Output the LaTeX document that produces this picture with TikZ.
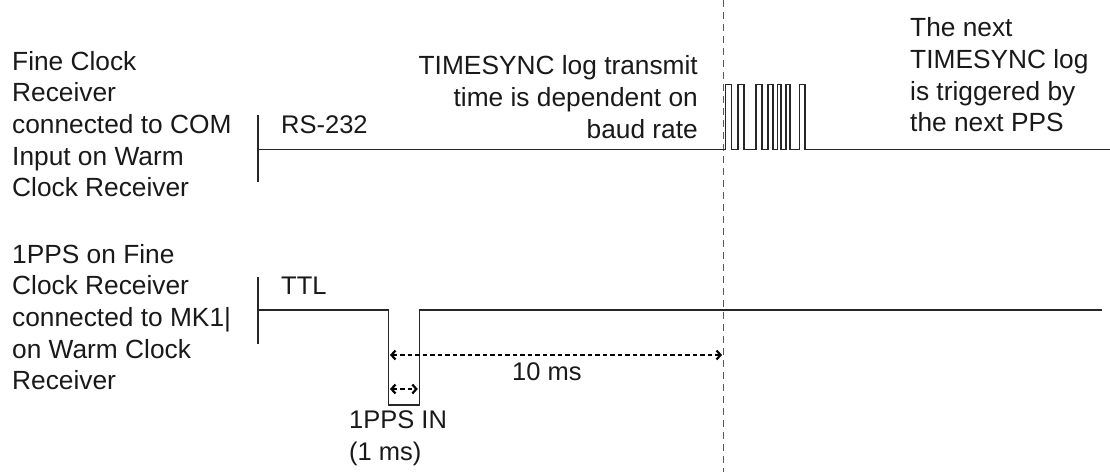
\documentclass[tikz,border=0pt]{standalone}
\usepackage{fontspec}
\setmainfont{Liberation Sans}
\usetikzlibrary{arrows.meta}
\begin{document}
\begin{tikzpicture}[x=1pt,y=-1pt,
  lbl/.style={inner sep=0pt, font=\fontsize{25.5}{31.7}\selectfont, text=black!90},
  desc/.style={inner sep=0pt, font=\fontsize{26.3}{31.7}\selectfont, text=black!90},
  sig/.style={line width=1.6pt, black!85, line join=miter},
  guide/.style={black!65, line width=1.2pt, dash pattern=on 7pt off 5pt},
  barb/.tip={Straight Barb[length=4pt,width=9pt,line width=2.2pt]},
  meas/.style={line width=1.6pt, black, dash pattern=on 4.5pt off 3pt, barb-barb}
]
\useasboundingbox (0,0) rectangle (1110,472);

% texts (base anchor = baseline of the last line)
\node[desc, anchor=base west, align=left] (t1) at (12,196.8) {Fine Clock\\Receiver\\connected to COM\\Input on Warm\\Clock Receiver};
\node[desc, anchor=base west, align=left] (t2) at (12,389.8) {1PPS on Fine\\Clock Receiver\\connected to MK1|\\on Warm Clock\\Receiver};
\node[lbl, anchor=base west] (rs) at (281,133) {RS-232};
\node[lbl, anchor=base west] (ttl) at (281,294) {TTL};
\node[desc, anchor=base east, align=right] (tsync) at (698,138) {TIMESYNC log transmit\\time is dependent on\\baud rate};
\node[desc, anchor=base west, align=left] (next) at (910,131.8) {The next\\TIMESYNC log\\is triggered by\\the next PPS};
\node[lbl, anchor=base west] (ten) at (512,380.7) {10 ms};
\node[lbl, anchor=base west, align=left] (pin) at (349,460) {1PPS IN\\(1 ms)};

% guide line
\coordinate (gtop) at (723.3,0);
\coordinate (gbot) at (723.3,472);
\draw[guide] (gtop) -- (gbot);

% RS-232 signal
\draw[sig] (258,115) -- (258,182);
\draw[sig] (258,149.5) -- (725.3,149.5) -- (725.3,84.3) -- (731.3,84.3) -- (731.3,149.5)
  -- (738,149.5) -- (738,84.3) -- (743.7,84.3) -- (743.7,149.5)
  -- (755.7,149.5) -- (755.7,84.3) -- (762,84.3) -- (762,149.5)
  -- (767.7,149.5) -- (767.7,84.3) -- (772.7,84.3) -- (772.7,149.5)
  -- (777.3,149.5) -- (777.3,84.3) -- (781,84.3) -- (781,149.5)
  -- (785.7,149.5) -- (785.7,84.3) -- (790,84.3) -- (790,149.5)
  -- (799.3,149.5) -- (799.3,84.3) -- (805,84.3) -- (805,149.5)
  -- (1110,149.5);

% TTL signal
\draw[sig] (258,276.5) -- (258,343.5);
\draw[sig] (258,310) -- (388.3,310) -- (388.3,405) -- (419.5,405) -- (419.5,310) -- (1102,310);

% measurements
\coordinate (a1) at (390,355);
\coordinate (a2) at (722,355);
\draw[meas] (a1) -- (a2);
\coordinate (b1) at (390,389);
\coordinate (b2) at (417.8,389);
\draw[meas] (b1) -- (b2);
\end{tikzpicture}
\end{document}
